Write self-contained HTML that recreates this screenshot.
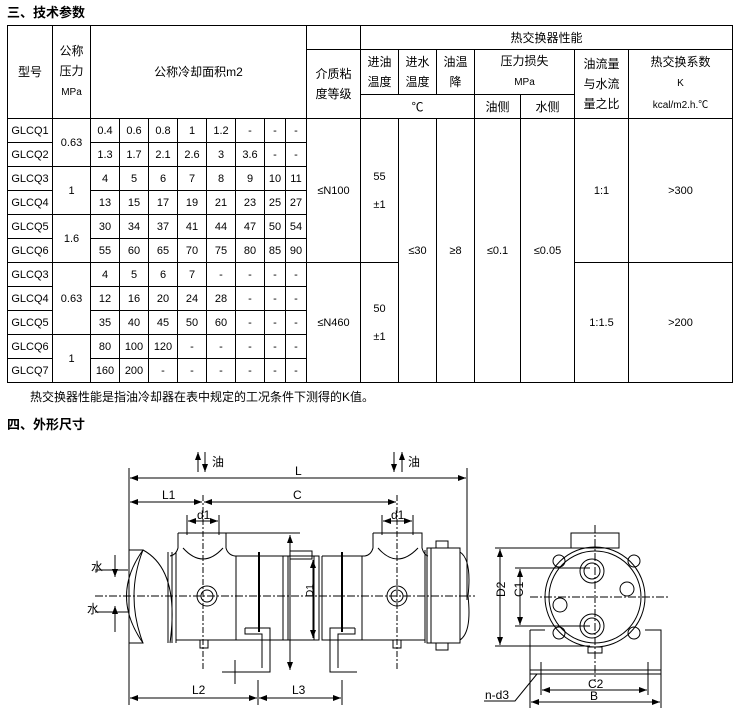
<!DOCTYPE html>
<html><head><meta charset="utf-8"><style>
body{margin:0;width:742px;height:721px;background:#fff;position:relative;overflow:hidden;font-family:"Liberation Sans","Noto Sans CJK SC",sans-serif;color:#000}
.t{position:absolute;font-size:12px;white-space:nowrap}
table{position:absolute;left:7px;top:25px;border-collapse:collapse;table-layout:fixed}
td{border:1px solid #000;padding:0;text-align:center;font-size:11px;line-height:14px;font-family:"Liberation Sans","Noto Sans CJK SC",sans-serif}
td.c{font-size:12px;line-height:20px}
tr.d td{height:23px}
</style></head><body>
<div class="t" style="left:7px;top:2px;font-weight:bold;font-size:13px">三、技术参数</div>
<table>
<colgroup><col style="width:45px"><col style="width:38px"><col style="width:29px"><col style="width:29px"><col style="width:29px"><col style="width:29px"><col style="width:29px"><col style="width:29px"><col style="width:21px"><col style="width:21px"><col style="width:54px"><col style="width:38px"><col style="width:38px"><col style="width:38px"><col style="width:46px"><col style="width:54px"><col style="width:54px"><col style="width:104px"></colgroup>
<tr style="height:24px"><td rowspan="3" class="c">型号</td><td rowspan="3" class="c">公称<br>压力<br><span style="font-size:10px">MPa</span></td><td rowspan="3" colspan="8" class="c">公称冷却面积m2</td><td></td><td colspan="7" class="c">热交换器性能</td></tr>
<tr style="height:45px"><td rowspan="2" class="c">介质粘<br>度等级</td><td class="c">进油<br>温度</td><td class="c">进水<br>温度</td><td class="c">油温<br>降</td><td colspan="2" class="c">压力损失<br><span style="font-size:10px">MPa</span></td><td rowspan="2" class="c">油流量<br>与水流<br>量之比</td><td rowspan="2" class="c">热交换系数<br><span style="font-size:10px">K<br>kcal/m2.h.℃</span></td></tr>
<tr style="height:24px"><td colspan="3" class="c">℃</td><td class="c">油侧</td><td class="c">水侧</td></tr>
<tr class="d"><td>GLCQ1</td><td rowspan="2">0.63</td><td>0.4</td><td>0.6</td><td>0.8</td><td>1</td><td>1.2</td><td>-</td><td>-</td><td>-</td><td rowspan="6">≤N100</td><td rowspan="6">55<br><br>±1</td><td rowspan="11">≤30</td><td rowspan="11">≥8</td><td rowspan="11">≤0.1</td><td rowspan="11">≤0.05</td><td rowspan="6">1:1</td><td rowspan="6">&gt;300</td></tr>
<tr class="d"><td>GLCQ2</td><td>1.3</td><td>1.7</td><td>2.1</td><td>2.6</td><td>3</td><td>3.6</td><td>-</td><td>-</td></tr>
<tr class="d"><td>GLCQ3</td><td rowspan="2">1</td><td>4</td><td>5</td><td>6</td><td>7</td><td>8</td><td>9</td><td>10</td><td>11</td></tr>
<tr class="d"><td>GLCQ4</td><td>13</td><td>15</td><td>17</td><td>19</td><td>21</td><td>23</td><td>25</td><td>27</td></tr>
<tr class="d"><td>GLCQ5</td><td rowspan="2">1.6</td><td>30</td><td>34</td><td>37</td><td>41</td><td>44</td><td>47</td><td>50</td><td>54</td></tr>
<tr class="d"><td>GLCQ6</td><td>55</td><td>60</td><td>65</td><td>70</td><td>75</td><td>80</td><td>85</td><td>90</td></tr>
<tr class="d"><td>GLCQ3</td><td rowspan="3">0.63</td><td>4</td><td>5</td><td>6</td><td>7</td><td>-</td><td>-</td><td>-</td><td>-</td><td rowspan="5">≤N460</td><td rowspan="5">50<br><br>±1</td><td rowspan="5">1:1.5</td><td rowspan="5">&gt;200</td></tr>
<tr class="d"><td>GLCQ4</td><td>12</td><td>16</td><td>20</td><td>24</td><td>28</td><td>-</td><td>-</td><td>-</td></tr>
<tr class="d"><td>GLCQ5</td><td>35</td><td>40</td><td>45</td><td>50</td><td>60</td><td>-</td><td>-</td><td>-</td></tr>
<tr class="d"><td>GLCQ6</td><td rowspan="2">1</td><td>80</td><td>100</td><td>120</td><td>-</td><td>-</td><td>-</td><td>-</td><td>-</td></tr>
<tr class="d"><td>GLCQ7</td><td>160</td><td>200</td><td>-</td><td>-</td><td>-</td><td>-</td><td>-</td><td>-</td></tr>
</table>
<div class="t" style="left:30px;top:388px">热交换器性能是指油冷却器在表中规定的工况条件下测得的K值。</div>
<div class="t" style="left:7px;top:414px;font-weight:bold;font-size:13px">四、外形尺寸</div>
<svg style="position:absolute;left:0;top:0" width="742" height="721" font-family="Liberation Sans,Noto Sans CJK SC,sans-serif" font-size="11">
<defs><marker id="a" markerWidth="8" markerHeight="6" refX="8" refY="3" orient="auto-start-reverse"><path d="M0,0L8,3L0,6z"/></marker></defs>
<g stroke="#000" fill="none" stroke-width="1">
<!-- oil arrows -->
<line x1="198" y1="472" x2="198" y2="452" marker-end="url(#a)"/><line x1="205" y1="452" x2="205" y2="472" marker-end="url(#a)"/>
<line x1="394" y1="452" x2="394" y2="472" marker-end="url(#a)"/><line x1="402" y1="472" x2="402" y2="452" marker-end="url(#a)"/>
<!-- extension lines -->
<line x1="129" y1="468" x2="129" y2="705"/><line x1="467" y1="468" x2="467" y2="600"/>
<line x1="130" y1="478" x2="466" y2="478" marker-start="url(#a)" marker-end="url(#a)"/>
<line x1="130" y1="502" x2="202" y2="502" marker-start="url(#a)" marker-end="url(#a)"/>
<line x1="204" y1="502" x2="396" y2="502" marker-start="url(#a)" marker-end="url(#a)"/>
<line x1="203" y1="495" x2="203" y2="670" stroke-dasharray="6,2,2,2"/><line x1="397" y1="495" x2="397" y2="670" stroke-dasharray="6,2,2,2"/>
<line x1="187" y1="515" x2="187" y2="535"/><line x1="219" y1="515" x2="219" y2="535"/><line x1="188" y1="521" x2="218" y2="521" marker-start="url(#a)" marker-end="url(#a)"/>
<line x1="382" y1="515" x2="382" y2="535"/><line x1="413" y1="515" x2="413" y2="535"/><line x1="383" y1="521" x2="412" y2="521" marker-start="url(#a)" marker-end="url(#a)"/>
<!-- flanges -->
<path d="M178,533H226V548Q228,555 235,556H300"/><path d="M178,533V548Q176,555 170,556"/>
<path d="M183,548Q203,570 223,548"/>
<path d="M373,533H422V548Q424,555 428,556"/><path d="M373,533V548Q371,555 365,556H322"/><path d="M378,548Q397,570 418,548"/>
<line x1="226" y1="533" x2="300" y2="533"/>
<!-- left head -->
<path d="M129,550H143Q125,596 143,643H129Z"/>
<path d="M143,550Q110,596 143,643"/><path d="M143,550Q180,570 170,643"/>
<line x1="168" y1="552" x2="168" y2="643"/><line x1="172" y1="552" x2="172" y2="643"/><line x1="176" y1="552" x2="176" y2="643"/>
<!-- body sections -->
<path d="M176,556V640H283V556"/><line x1="236" y1="556" x2="236" y2="640"/>
<rect x="283" y="556" width="36" height="84"/><line x1="288" y1="556" x2="288" y2="640"/><line x1="314" y1="556" x2="314" y2="640"/>
<rect x="290" y="551" width="22" height="8"/>
<path d="M322,556V640H425V556"/><line x1="362" y1="556" x2="362" y2="640"/><line x1="425" y1="550" x2="425" y2="643"/>
<!-- right cap -->
<rect x="427" y="548" width="33" height="95"/><line x1="431" y1="548" x2="431" y2="643"/>
<path d="M460,552Q472,560 468,596Q472,632 460,640"/>
<rect x="436" y="541" width="12" height="7"/><rect x="436" y="643" width="12" height="7"/>
<!-- centerline -->
<line x1="95" y1="596" x2="475" y2="596" stroke-dasharray="8,2,2,2"/>
<circle cx="207" cy="596" r="10"/><circle cx="207" cy="596" r="6"/>
<circle cx="397" cy="596" r="10"/><circle cx="397" cy="596" r="6"/>
<!-- bolts -->
<line x1="259" y1="552" x2="259" y2="632" stroke-width="2"/><line x1="342" y1="552" x2="342" y2="632" stroke-width="2"/>
<!-- feet -->
<path d="M245,628H270V672H233"/><path d="M245,628V634H262V668"/>
<path d="M355,628H330V672H357"/><path d="M355,628V634H338V668"/>
<line x1="246" y1="672" x2="222" y2="672"/><line x1="235" y1="660" x2="235" y2="684"/>
<rect x="200" y="640" width="8" height="8"/><rect x="393" y="640" width="8" height="8"/>
<!-- dims H -->
<line x1="290" y1="535" x2="290" y2="670" marker-start="url(#a)" marker-end="url(#a)"/>
<line x1="313" y1="560" x2="313" y2="638" marker-start="url(#a)" marker-end="url(#a)"/>
<!-- L2 L3 -->
<line x1="258" y1="680" x2="258" y2="705"/><line x1="342" y1="680" x2="342" y2="705"/>
<line x1="130" y1="698" x2="257" y2="698" marker-start="url(#a)" marker-end="url(#a)"/>
<line x1="259" y1="698" x2="341" y2="698" marker-start="url(#a)" marker-end="url(#a)"/>
<!-- water -->
<line x1="95" y1="570" x2="128" y2="570"/><line x1="95" y1="612" x2="128" y2="612"/>
<line x1="115" y1="555" x2="115" y2="577" marker-end="url(#a)"/><line x1="115" y1="606" x2="115" y2="632" marker-start="url(#a)"/>
<!-- side view -->
<circle cx="595" cy="597" r="50"/><circle cx="595" cy="597" r="46"/>
<rect x="571" y="533" width="48" height="15"/>
<line x1="595" y1="525" x2="595" y2="680" stroke-dasharray="8,2,2,2"/>
<line x1="530" y1="597" x2="670" y2="597" stroke-dasharray="8,2,2,2"/>
<circle cx="592" cy="571" r="12"/><circle cx="592" cy="571" r="8"/>
<circle cx="592" cy="626" r="12"/><circle cx="592" cy="626" r="8"/>
<circle cx="627" cy="589" r="7"/><circle cx="560" cy="605" r="7"/>
<circle cx="559" cy="561" r="6"/><circle cx="634" cy="561" r="6"/><circle cx="559" cy="633" r="6"/><circle cx="634" cy="633" r="6"/>
<path d="M530,630V670H661V630H645"/><line x1="530" y1="630" x2="545" y2="630"/>
<rect x="530" y="670" width="131" height="4"/>
<rect x="588" y="647" width="14" height="6"/>
<line x1="495" y1="548" x2="590" y2="548"/><line x1="495" y1="646" x2="590" y2="646"/>
<line x1="500" y1="549" x2="500" y2="645" marker-start="url(#a)" marker-end="url(#a)"/>
<line x1="515" y1="568" x2="590" y2="568"/><line x1="515" y1="626" x2="590" y2="626"/>
<line x1="520" y1="569" x2="520" y2="625" marker-start="url(#a)" marker-end="url(#a)"/>
<line x1="541" y1="662" x2="541" y2="695"/><line x1="648" y1="662" x2="648" y2="695"/>
<line x1="530" y1="674" x2="530" y2="708"/><line x1="661" y1="674" x2="661" y2="708"/>
<line x1="542" y1="690" x2="647" y2="690" marker-start="url(#a)" marker-end="url(#a)"/>
<line x1="531" y1="702" x2="660" y2="702" marker-start="url(#a)" marker-end="url(#a)"/>
<path d="M484,701H515L537,674"/>
</g>
<g font-size="12">
<text x="212" y="466">油</text><text x="408" y="466">油</text>
<text x="295" y="475">L</text><text x="162" y="499">L1</text><text x="293" y="499">C</text>
<text x="197" y="519">d1</text><text x="391" y="519">d1</text>
<text x="192" y="694">L2</text><text x="292" y="694">L3</text>
<text x="91" y="571">水</text><text x="87" y="613">水</text>
<text x="588" y="688">C2</text><text x="590" y="700">B</text><text x="485" y="699">n-d3</text>
<text x="496" y="606" transform="rotate(-90 496 597)">D2</text>
<text x="516" y="604" transform="rotate(-90 516 597)">C1</text>
<text x="306" y="604" font-size="10" transform="rotate(-90 306 597)">D1</text>
</g>
</svg>
</body></html>
